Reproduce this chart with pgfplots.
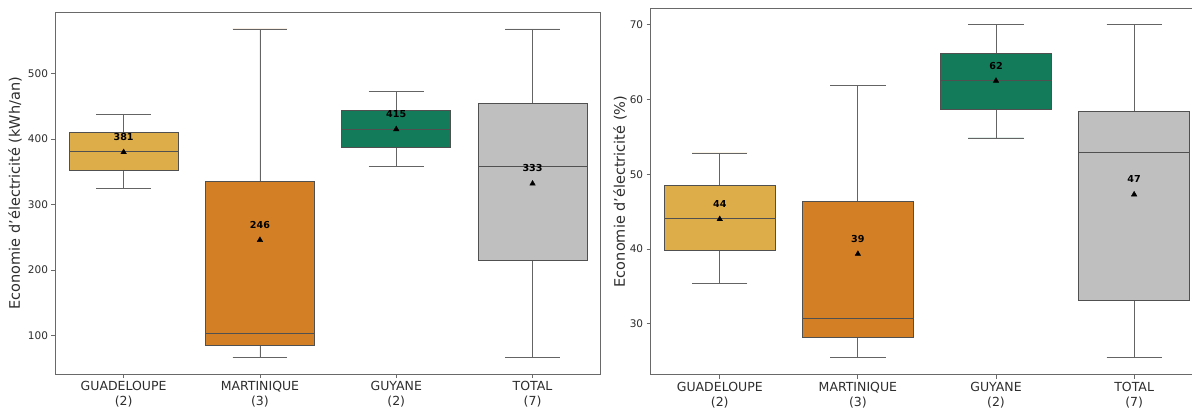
\documentclass[border=0pt]{standalone}
\usepackage{pgfplots}
\pgfplotsset{compat=1.18}
\usepgfplotslibrary{statistics}
\usepackage{fontspec}
\setmainfont{DejaVu Sans}
\definecolor{cG}{RGB}{221,173,74}
\definecolor{cM}{RGB}{211,127,38}
\definecolor{cY}{RGB}{19,122,90}
\definecolor{cT}{RGB}{191,191,191}
\definecolor{edge}{RGB}{80,80,80}
\definecolor{whisk}{RGB}{100,100,100}
\definecolor{framec}{RGB}{105,105,105}
\definecolor{tickt}{RGB}{45,45,45}
\pgfplotsset{
  mystyle/.style={
    scale only axis,
    xmin=-0.5, xmax=3.5,
    xtick={0,1,2,3},
    xticklabels={{GUADELOUPE\\(2)},{MARTINIQUE\\(3)},{GUYANE\\(2)},{TOTAL\\(7)}},
    xticklabel style={align=center, font=\fontsize{12.5}{15}\selectfont, text=tickt},
    yticklabel style={font=\fontsize{10.5}{12}\selectfont, text=tickt},
    /pgf/number format/assume math mode=true,
    tick align=outside, tick pos=left,
    major tick length=4pt,
    every tick/.style={framec, line width=0.8pt},
    axis line style={framec, line width=1pt},
    ylabel style={font=\fontsize{14.5}{17}\selectfont, text=tickt, anchor=center},
    boxplot/draw direction=y,
    boxplot/every whisker/.style={draw=whisk, line width=0.9pt},
    boxplot/every median/.style={draw=edge, line width=1pt},
  },
  bx/.style={draw=edge, line width=1pt, fill=#1},
  meanst/.style={only marks, mark=triangle*, mark size=3.2pt, black,
    nodes near coords, point meta=explicit symbolic,
    every node near coord/.style={font=\bfseries\fontsize{9.6}{11}\selectfont, anchor=south, yshift=8pt, text=black}},
}
\begin{document}
\begin{tikzpicture}
\begin{axis}[mystyle, at={(55.5pt,34pt)}, anchor=south west,
  width=545.2pt, height=361.7pt,
  ymin=41.6, ymax=593.4, ytick={100,200,300,400,500},
  ylabel={Economie d’électricité (kWh/an)},
  ylabel style={at={(axis description cs:-0.0743,0.5)}}]
\addplot[bx=cG, boxplot prepared={draw position=0, lower whisker=324, lower quartile=352, median=381, upper quartile=409.5, upper whisker=438, box extend=0.8, whisker extend=0.4}] coordinates {};
\addplot[bx=cM, boxplot prepared={draw position=1, lower whisker=66.5, lower quartile=85.4, median=104, upper quartile=336, upper whisker=568, box extend=0.8, whisker extend=0.4}] coordinates {};
\addplot[bx=cY, boxplot prepared={draw position=2, lower whisker=358, lower quartile=386.6, median=415, upper quartile=443.6, upper whisker=472.5, box extend=0.8, whisker extend=0.4}] coordinates {};
\addplot[bx=cT, boxplot prepared={draw position=3, lower whisker=66.5, lower quartile=214.3, median=358, upper quartile=454.7, upper whisker=568, box extend=0.8, whisker extend=0.4}] coordinates {};
\addplot[meanst] table[meta=lab] {
x y lab
0 380 381
1 246 246
2 415 415
3 332 333
};
\end{axis}
\begin{axis}[mystyle, at={(650.7pt,33.3pt)}, anchor=south west,
  width=552.5pt, height=366.4pt,
  ymin=23.2, ymax=72.2, ytick={30,40,50,60,70},
  ylabel={Economie d’électricité (\%)},
  ylabel style={at={(axis description cs:-0.0556,0.5)}}]
\addplot[bx=cG, boxplot prepared={draw position=0, lower whisker=35.4, lower quartile=39.85, median=44.07, upper quartile=48.5, upper whisker=52.85, box extend=0.8, whisker extend=0.4}] coordinates {};
\addplot[bx=cM, boxplot prepared={draw position=1, lower whisker=25.46, lower quartile=28.13, median=30.7, upper quartile=46.3, upper whisker=61.9, box extend=0.8, whisker extend=0.4}] coordinates {};
\addplot[bx=cY, boxplot prepared={draw position=2, lower whisker=54.86, lower quartile=58.6, median=62.5, upper quartile=66.2, upper whisker=70, box extend=0.8, whisker extend=0.4}] coordinates {};
\addplot[bx=cT, boxplot prepared={draw position=3, lower whisker=25.46, lower quartile=33.1, median=52.85, upper quartile=58.4, upper whisker=70, box extend=0.8, whisker extend=0.4}] coordinates {};
\addplot[meanst] table[meta=lab] {
x y lab
0 44 44
1 39.35 39
2 62.5 62
3 47.3 47
};
\end{axis}
\pgfresetboundingbox
\useasboundingbox (0pt,0pt) rectangle (1192pt,408pt);
\end{tikzpicture}
\end{document}
